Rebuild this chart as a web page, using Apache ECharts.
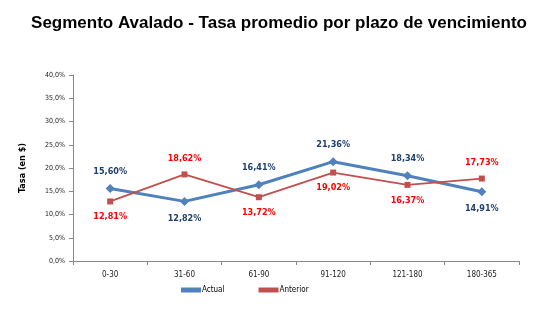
<!DOCTYPE html>
<html><head><meta charset="utf-8">
<script src="https://cdn.jsdelivr.net/npm/echarts@6/dist/echarts.min.js"></script>
<style>html,body{margin:0;padding:0;background:#fff}#c{width:558px;height:327px}</style>
</head><body><div id="c"></div>
<script>
const categories = ['0-30','31-60','61-90','91-120','121-180','180-365'];
const actual = [15.60, 12.82, 16.41, 21.36, 18.34, 14.91];
const anterior = [12.81, 18.62, 13.72, 19.02, 16.37, 17.73];
const actualLabelPos = ['top','bottom','top','top','top','bottom'];
const anteriorLabelPos = ['bottom','top','bottom','bottom','bottom','top'];

const fmt = v => v.toFixed(2).replace('.', ',') + '%';
const font = '"Liberation Sans Narrow","DejaVu Sans Condensed","Liberation Sans",sans-serif';

const chart = echarts.init(document.getElementById('c'), null, {renderer:'canvas'});
chart.setOption({
  animation:false,
  title:{text:'Segmento Avalado - Tasa promedio por plazo de vencimiento', left:'center', top:10,
    textStyle:{fontFamily:'"Liberation Sans",Arial,sans-serif', fontSize:17, fontWeight:'bold', color:'#000'}},
  grid:{left:73, right:39, top:75, bottom:66},
  legend:{bottom:28, left:176, itemGap:34, itemWidth:20, itemHeight:5,
    textStyle:{fontFamily:font, fontSize:8, color:'#000', padding:[0,0,0,-4]},
    data:[{name:'Actual', icon:'rect'},{name:'Anterior', icon:'rect'}]},
  xAxis:{type:'category', data:categories, boundaryGap:true,
    axisLine:{lineStyle:{color:'#888'}}, axisTick:{show:true, lineStyle:{color:'#888'}, length:4},
    axisLabel:{fontFamily:font, fontSize:8, color:'#222', margin:10}},
  yAxis:{type:'value', min:0, max:40, interval:5, name:'Tasa (en $)', nameLocation:'middle', nameGap:46,
    nameTextStyle:{fontFamily:font, fontSize:9, fontWeight:'bold', color:'#000'},
    axisLine:{show:true, lineStyle:{color:'#888'}}, axisTick:{show:true, length:4, lineStyle:{color:'#888'}},
    splitLine:{show:false},
    axisLabel:{fontFamily:font, fontSize:7, color:'#222', formatter:v=>v.toFixed(1).replace('.',',')+'%'}},
  series:[
    {name:'Actual', type:'line', data:actual.map((v,i)=>({value:v, label:{position:actualLabelPos[i]}})),
      symbol:'diamond', symbolSize:9, lineStyle:{color:'#4F81BD', width:3}, itemStyle:{color:'#4F81BD'},
      label:{show:true, distance:8, formatter:p=>fmt(p.value), fontFamily:font, fontSize:9, fontWeight:'bold', color:'#1F3F6E'}},
    {name:'Anterior', type:'line', data:anterior.map((v,i)=>({value:v, label:{position:anteriorLabelPos[i]}})),
      symbol:'rect', symbolSize:6, lineStyle:{color:'#C0504D', width:1.8}, itemStyle:{color:'#C0504D'},
      label:{show:true, distance:8, formatter:p=>fmt(p.value), fontFamily:font, fontSize:9, fontWeight:'bold', color:'#FF0000'}}
  ]
});
</script></body></html>
